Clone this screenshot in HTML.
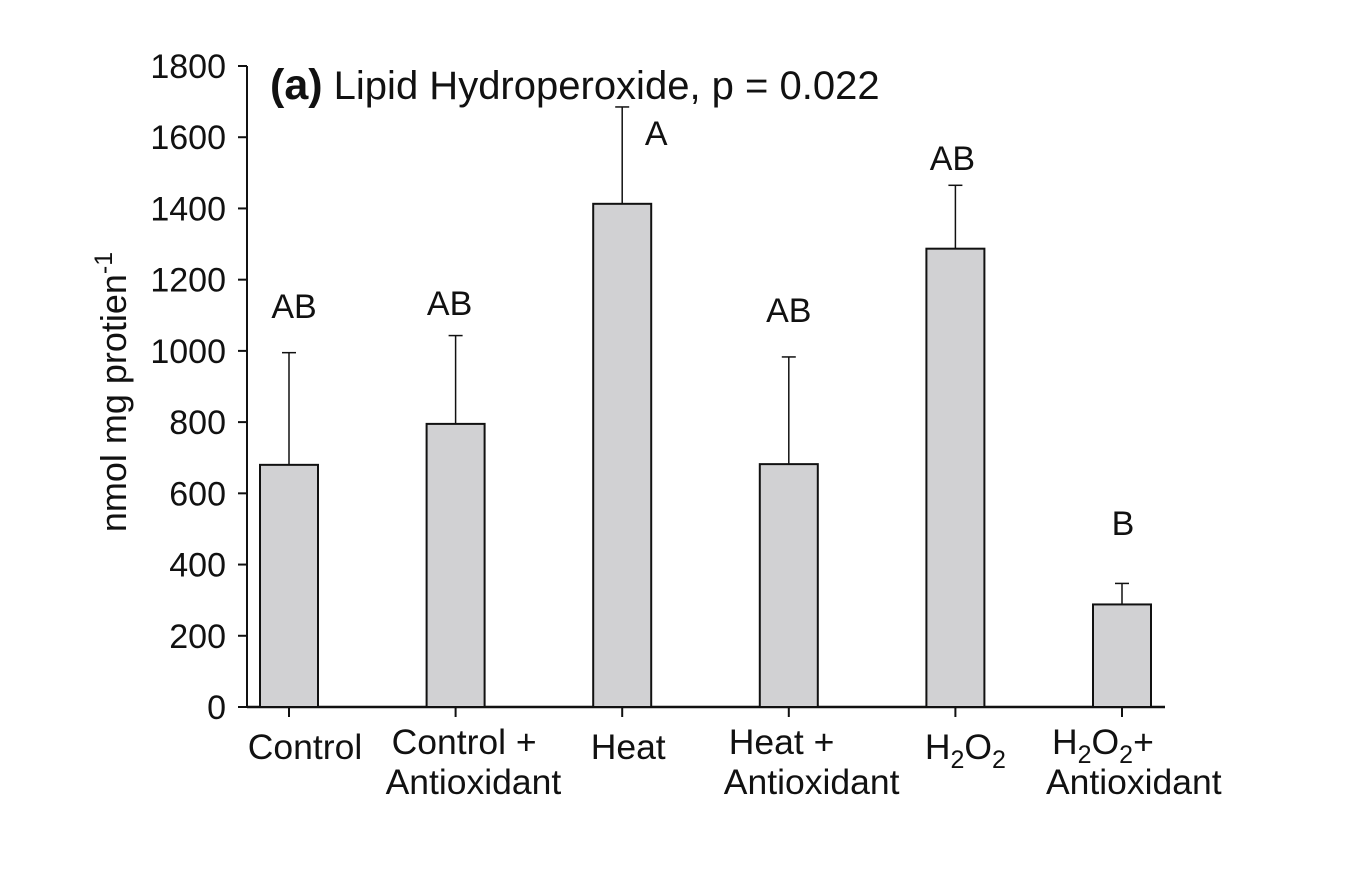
<!DOCTYPE html>
<html><head><meta charset="utf-8"><style>
html,body{margin:0;padding:0;background:#fff;}
svg text{font-family:"Liberation Sans",Arial,sans-serif;fill:#111;}
</style></head><body>
<svg width="1368" height="864" xmlns="http://www.w3.org/2000/svg">
</svg>
<script>
const categories=[["Control"],["Control +","Antioxidant"],["Heat"],["Heat +","Antioxidant"],["H2O2"],["H2O2+","Antioxidant"]];
const means=[680,795,1413,682,1287,288];
const errors=[995,1043,1685,983,1465,347];
const letters=["AB","AB","A","AB","AB","B"];
const letterVals=[1126,1134,1612,1115,1542,517];
const yTicks=[0,200,400,600,800,1000,1200,1400,1600,1800];
const NS="http://www.w3.org/2000/svg";
const svg=document.querySelector('svg');
const X0=247,Y0=707,Y1=66,step=166.6,first=289,bw=58;
const y=v=>Y0-(v/1800)*(Y0-Y1);
const x=i=>first+i*step;
const letterDx=[5,-6,34,0,-3,1];
const labelDx=[16,0,6,0,10,0];
const startDx=[null,[-64,-70],null,[-60,-65],null,[-70,-76]];
function mk(t,a,p){const e=document.createElementNS(NS,t);for(const k in a)e.setAttribute(k,a[k]);(p||svg).appendChild(e);return e;}
let ya=mk('line',{x1:X0,y1:Y1,x2:X0,y2:Y0,stroke:'#111','stroke-width':2});


let xa=mk('line',{x1:X0,y1:Y0,x2:1165,y2:Y0,stroke:'#111','stroke-width':2.5});


yTicks.forEach(v=>{
  mk('line',{x1:238,y1:y(v),x2:X0,y2:y(v),stroke:'#111','stroke-width':2});
  let t=mk('text',{x:226,y:y(v)+12,'text-anchor':'end','font-size':34});
  t.textContent=v;
  
  
});
let yt=mk('text',{transform:'translate(126,392) rotate(-90)','text-anchor':'middle','font-size':36});
yt.innerHTML='nmol mg protien<tspan dy="-14" font-size="25">-1</tspan>';


let ti=mk('text',{x:270,y:99,'font-size':40});
ti.innerHTML='<tspan font-weight="bold" font-size="43">(a)</tspan> Lipid Hydroperoxide, p = 0.022';


means.forEach((m,i)=>{
  const cx=x(i);
  let eb=mk('line',{x1:cx,y1:y(m),x2:cx,y2:y(errors[i]),stroke:'#111','stroke-width':1.5});
  
  
  mk('line',{x1:cx-7,y1:y(errors[i]),x2:cx+7,y2:y(errors[i]),stroke:'#111','stroke-width':1.5});
  let r=mk('rect',{x:cx-bw/2,y:y(m),width:bw,height:Y0-y(m),fill:'#d1d1d3',stroke:'#111','stroke-width':2});
  
  
  mk('line',{x1:cx,y1:Y0,x2:cx,y2:717,stroke:'#111','stroke-width':2});
  let l=mk('text',{x:cx+letterDx[i],y:y(letterVals[i])+12,'text-anchor':'middle','font-size':34});
  l.textContent=letters[i];
  
  
  const lines=categories[i];
  const single=lines.length==1;
  lines.forEach((s,j)=>{
    const attrs=single?{x:cx+labelDx[i],y:759,'text-anchor':'middle'}:{x:cx+startDx[i][j],y:754+j*40,'text-anchor':'start'};
    attrs['font-size']=35.5;
    let t=mk('text',attrs);
    if(s.startsWith('H2O2')){t.innerHTML='H<tspan dy="9" font-size="25">2</tspan><tspan dy="-9">O</tspan><tspan dy="9" font-size="25">2</tspan><tspan dy="-9">'+s.slice(4)+'</tspan>';}
    else t.textContent=s;
    
    
  });
});
</script>
</body></html>
